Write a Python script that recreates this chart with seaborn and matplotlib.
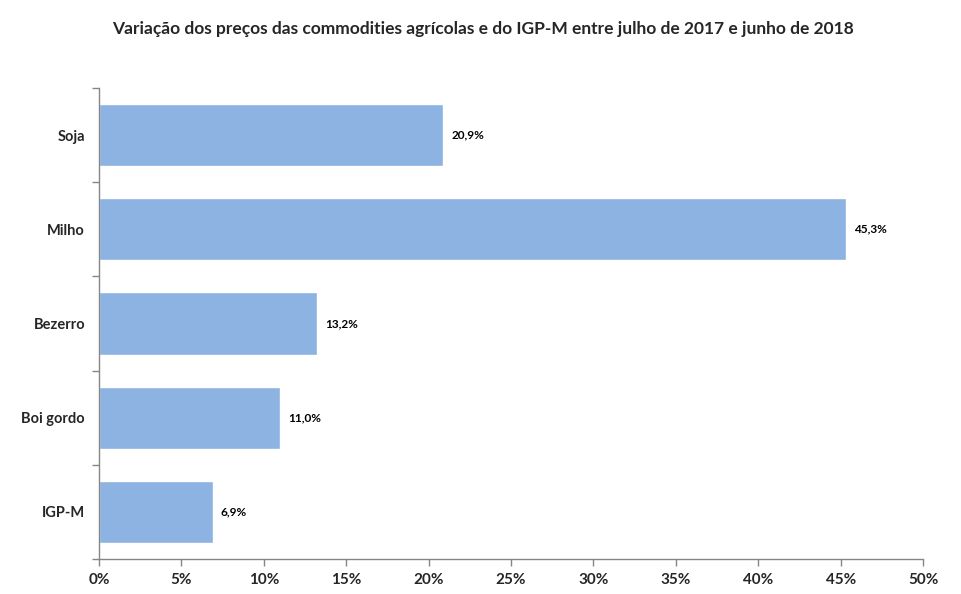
import pandas as pd
import matplotlib.pyplot as plt
import seaborn as sns

# Data
categorias = ['Soja', 'Milho', 'Bezerro', 'Boi gordo', 'IGP-M']
variacao = [20.9, 45.3, 13.2, 11.0, 6.9]
rotulos = ['20,9%', '45,3%', '13,2%', '11,0%', '6,9%']
xticks = [0, 5, 10, 15, 20, 25, 30, 35, 40, 45, 50]
xtick_labels = [f'{t}%' for t in xticks]

df = pd.DataFrame({'Categoria': categorias, 'Variacao': variacao})

sns.set_style('white')
plt.rcParams['font.family'] = ['Lato', 'DejaVu Sans']

fig = plt.figure(figsize=(9.61, 5.94), dpi=100)
ax = fig.add_axes([0.103, 0.0589, 0.8575, 0.793])

sns.barplot(data=df, x='Variacao', y='Categoria', color='#8DB3E2',
            saturation=1, width=0.66, ax=ax)

for i, (v, lab) in enumerate(zip(variacao, rotulos)):
    ax.text(v + 0.5, i, lab, va='center', ha='left', fontsize=8.5,
            fontweight='bold', color='black')

ax.set_xlim(0, 50)
ax.set_ylim(len(categorias) - 0.5, -0.5)
ax.set_xticks(xticks)
ax.set_xticklabels(xtick_labels, fontsize=11, fontweight='bold')
ax.set_yticks(range(len(categorias)))
ax.set_yticklabels(categorias, fontsize=10.5, fontweight='bold')
ax.set_xlabel('')
ax.set_ylabel('')

# category boundary ticks on the y axis
ax.set_yticks([i - 0.5 for i in range(len(categorias) + 1)], minor=True)
ax.tick_params(axis='y', which='major', left=True, length=0, pad=10)
ax.tick_params(axis='y', which='minor', left=True, length=5, width=1,
               color='#868686', direction='out')
ax.tick_params(axis='x', which='major', bottom=True, length=5, width=1,
               color='#868686', direction='out', pad=5)

for s in ['top', 'right']:
    ax.spines[s].set_visible(False)
for s in ['left', 'bottom']:
    ax.spines[s].set_color('#868686')
    ax.spines[s].set_linewidth(1)

fig.suptitle('Variação dos preços das commodities agrícolas e do IGP-M entre julho de 2017 e junho de 2018',
             x=0.503, y=0.965, fontsize=12.5, fontweight='bold')

plt.savefig('out.png', dpi=100)
